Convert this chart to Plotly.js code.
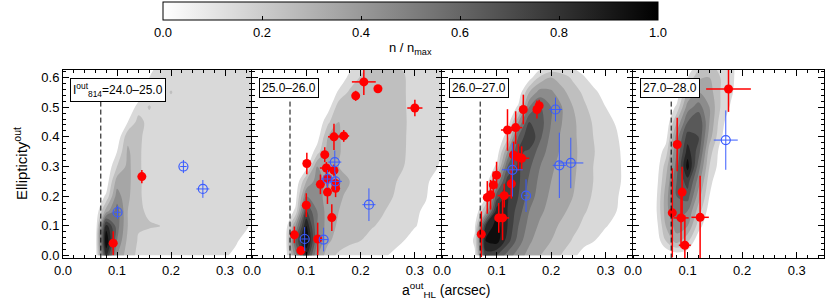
<!DOCTYPE html>
<html>
<head>
<meta charset="utf-8">
<script src="https://cdn.plot.ly/plotly-3.0.1.min.js"></script>
<style>html,body{margin:0;padding:0;background:#fff;}#chart{width:830px;height:303px;}</style>
</head>
<body>
<div id="chart"></div>
<script>
// ---------------- data ----------------
const magLabels = ['I<sup>out</sup><sub>814</sub>=24.0\u201325.0', '25.0\u201326.0', '26.0\u201327.0', '27.0\u201328.0'];
const sizeLimit = 0.07;
const xTicks = [0.0, 0.1, 0.2, 0.3];
const yTicks = [0.0, 0.1, 0.2, 0.3, 0.4, 0.5, 0.6];
const cbTicks = [0.0, 0.2, 0.4, 0.6, 0.8, 1.0];

// density grid (n / n_max)
const gridX = [0,0.02,0.04,0.06,0.08,0.10,0.12,0.14,0.16,0.18,0.20,0.22,0.24,0.26,0.28,0.30,0.32,0.34,0.36];
const gridY = [0,0.05,0.10,0.15,0.20,0.25,0.30,0.35,0.40,0.45,0.50,0.55,0.60,0.65];

const density2425 = [
[0,0,0,0.02,0.8,0.4,0.24,0.18,0.14,0.13,0.12,0.12,0.12,0.12,0.11,0.11,0.08,0.03,0],
[0,0,0,0.02,1.0,0.5,0.27,0.19,0.15,0.13,0.13,0.13,0.13,0.13,0.13,0.12,0.11,0.07,0.02],
[0,0,0,0,0.85,0.55,0.3,0.21,0.21,0.2,0.13,0.13,0.13,0.13,0.13,0.13,0.12,0.11,0.06],
[0,0,0,0,0.35,0.55,0.3,0.22,0.18,0.14,0.13,0.13,0.13,0.13,0.13,0.13,0.13,0.12,0.09],
[0,0,0,0,0.12,0.45,0.32,0.22,0.15,0.13,0.13,0.13,0.13,0.13,0.13,0.13,0.13,0.12,0.09],
[0,0,0,0,0.03,0.35,0.33,0.22,0.15,0.13,0.13,0.13,0.13,0.13,0.13,0.13,0.13,0.12,0.09],
[0,0,0,0,0,0.2,0.33,0.22,0.14,0.13,0.13,0.13,0.13,0.13,0.13,0.13,0.13,0.12,0.09],
[0,0,0,0,0,0.1,0.32,0.22,0.14,0.13,0.13,0.13,0.13,0.13,0.13,0.13,0.13,0.12,0.09],
[0,0,0,0,0,0.02,0.27,0.23,0.14,0.13,0.13,0.13,0.13,0.13,0.13,0.13,0.13,0.12,0.09],
[0,0,0,0,0,0,0.1,0.24,0.16,0.13,0.13,0.13,0.13,0.13,0.13,0.13,0.13,0.12,0.09],
[0,0,0,0,0,0,0,0.15,0.21,0.13,0.13,0.13,0.13,0.13,0.13,0.13,0.13,0.12,0.09],
[0,0,0,0,0,0,0,0.02,0.13,0.13,0.21,0.13,0.13,0.13,0.13,0.13,0.13,0.12,0.09],
[0,0,0,0,0,0,0,0,0.1,0.12,0.12,0.12,0.12,0.12,0.12,0.12,0.12,0.12,0.08],
[0,0,0,0,0,0,0,0,0.05,0.11,0.11,0.11,0.11,0.11,0.11,0.11,0.11,0.1,0.05]
];
const density2526 = [
[0,0,0,0,0.45,0.8,0.4,0.24,0.18,0.15,0.13,0.12,0.11,0.09,0.02,0,0,0,0],
[0,0,0,0,0.6,1.0,0.5,0.32,0.25,0.22,0.2,0.16,0.13,0.12,0.1,0.03,0,0,0],
[0,0,0,0,0.4,0.9,0.5,0.35,0.28,0.24,0.22,0.21,0.18,0.14,0.13,0.11,0.05,0,0],
[0,0,0,0,0.12,0.7,0.5,0.35,0.3,0.26,0.23,0.22,0.21,0.17,0.14,0.12,0.08,0,0],
[0,0,0,0,0.05,0.5,0.45,0.35,0.32,0.27,0.23,0.22,0.22,0.2,0.15,0.13,0.11,0.03,0],
[0,0,0,0,0,0.3,0.45,0.36,0.32,0.3,0.24,0.22,0.22,0.21,0.18,0.14,0.12,0.06,0],
[0,0,0,0,0,0.05,0.4,0.35,0.3,0.28,0.23,0.22,0.22,0.22,0.2,0.14,0.13,0.11,0.03],
[0,0,0,0,0,0,0.15,0.35,0.31,0.25,0.23,0.22,0.22,0.22,0.21,0.15,0.13,0.12,0.08],
[0,0,0,0,0,0,0.05,0.3,0.31,0.24,0.23,0.22,0.22,0.22,0.21,0.16,0.13,0.12,0.09],
[0,0,0,0,0,0,0,0.18,0.3,0.24,0.22,0.22,0.22,0.22,0.21,0.17,0.13,0.12,0.09],
[0,0,0,0,0,0,0,0.05,0.26,0.23,0.22,0.22,0.22,0.22,0.21,0.16,0.13,0.12,0.09],
[0,0,0,0,0,0,0,0,0.12,0.22,0.22,0.22,0.22,0.22,0.21,0.15,0.13,0.12,0.09],
[0,0,0,0,0,0,0,0,0.02,0.13,0.21,0.22,0.22,0.22,0.21,0.14,0.13,0.12,0.09],
[0,0,0,0,0,0,0,0,0,0.05,0.15,0.2,0.21,0.2,0.18,0.13,0.12,0.11,0.08]
];
const density2627 = [
[0,0,0,0.08,0.75,0.7,0.55,0.45,0.36,0.3,0.25,0.19,0.13,0.05,0,0,0,0,0],
[0,0,0,0.12,0.9,0.95,0.75,0.55,0.42,0.34,0.3,0.25,0.19,0.14,0.1,0.03,0,0,0],
[0,0,0,0.08,0.8,0.95,0.8,0.6,0.46,0.38,0.33,0.28,0.23,0.18,0.15,0.11,0.05,0,0],
[0,0,0,0,0.3,0.85,0.8,0.65,0.5,0.42,0.36,0.32,0.27,0.21,0.17,0.13,0.1,0.04,0],
[0,0,0,0,0.08,0.65,0.8,0.7,0.55,0.45,0.38,0.33,0.3,0.24,0.18,0.14,0.11,0.05,0],
[0,0,0,0,0,0.4,0.75,0.72,0.58,0.47,0.4,0.35,0.31,0.26,0.19,0.15,0.12,0.07,0],
[0,0,0,0,0,0.12,0.6,0.72,0.62,0.5,0.42,0.36,0.32,0.26,0.19,0.15,0.12,0.07,0],
[0,0,0,0,0,0.02,0.4,0.72,0.68,0.55,0.45,0.38,0.32,0.27,0.2,0.15,0.12,0.06,0],
[0,0,0,0,0,0,0.15,0.6,0.8,0.62,0.47,0.38,0.32,0.26,0.19,0.14,0.11,0.04,0],
[0,0,0,0,0,0,0.02,0.4,0.7,0.65,0.5,0.4,0.32,0.25,0.18,0.13,0.09,0,0],
[0,0,0,0,0,0,0,0.12,0.5,0.6,0.5,0.4,0.3,0.22,0.15,0.1,0.03,0,0],
[0,0,0,0,0,0,0,0.02,0.3,0.45,0.42,0.33,0.25,0.18,0.12,0.05,0,0,0],
[0,0,0,0,0,0,0,0,0.05,0.22,0.3,0.25,0.18,0.11,0.04,0,0,0,0],
[0,0,0,0,0,0,0,0,0,0,0.04,0.05,0.05,0.02,0,0,0,0,0]
];
const density2728 = [
[0,0,0,0,0.03,0.02,0,0,0,0,0,0,0,0,0,0,0,0,0],
[0,0,0,0.2,0.35,0.22,0.02,0,0,0,0,0,0,0,0,0,0,0,0],
[0,0,0.02,0.3,0.45,0.4,0.15,0,0,0,0,0,0,0,0,0,0,0,0],
[0,0,0.05,0.35,0.55,0.5,0.25,0.05,0,0,0,0,0,0,0,0,0,0,0],
[0,0,0.04,0.35,0.6,0.65,0.35,0.1,0,0,0,0,0,0,0,0,0,0,0],
[0,0,0.02,0.3,0.6,0.75,0.45,0.14,0,0,0,0,0,0,0,0,0,0,0],
[0,0,0,0.25,0.55,0.95,0.55,0.2,0.05,0,0,0,0,0,0,0,0,0,0],
[0,0,0,0.15,0.5,0.85,0.65,0.25,0.06,0,0,0,0,0,0,0,0,0,0],
[0,0,0,0.05,0.45,0.75,0.7,0.35,0.12,0,0,0,0,0,0,0,0,0,0],
[0,0,0,0,0.3,0.6,0.7,0.4,0.15,0.02,0,0,0,0,0,0,0,0,0],
[0,0,0,0,0.12,0.45,0.55,0.4,0.2,0.08,0,0,0,0,0,0,0,0,0],
[0,0,0,0,0.02,0.3,0.4,0.35,0.2,0.12,0,0,0,0,0,0,0,0,0],
[0,0,0,0,0,0.1,0.28,0.3,0.2,0.13,0.02,0,0,0,0,0,0,0,0],
[0,0,0,0,0,0,0.12,0.2,0.16,0.12,0.05,0,0,0,0,0,0,0,0]
];

// red filled points (with error bars)
const red2425X = [0.146, 0.093];
const red2425Y = [0.266, 0.042];
const red2425Ex = [0.003, 0.003];
const red2425Ey = [0.022, 0.040];
const red2526X = [0.206,0.191,0.232,0.300,0.151,0.169,0.134,0.101,0.137,0.151,0.139,0.126,0.154,0.154,0.139,0.100,0.147,0.078,0.121,0.090];
const red2526Y = [0.585,0.538,0.562,0.497,0.400,0.403,0.340,0.310,0.295,0.287,0.260,0.240,0.243,0.227,0.214,0.170,0.128,0.070,0.056,0.017];
const red2526Ex = [0.022,0.004,0.004,0.014,0.011,0.010,0.004,0.004,0.012,0.004,0.006,0.004,0.004,0.004,0.004,0.004,0.004,0.004,0.004,0.004];
const red2526Ey = [0.044,0.017,0.010,0.028,0.044,0.020,0.025,0.036,0.020,0.020,0.025,0.033,0.025,0.030,0.040,0.040,0.045,0.028,0.055,0.015];
const red2627X = [0.072,0.083,0.089,0.094,0.100,0.114,0.104,0.111,0.127,0.120,0.135,0.149,0.174,0.178,0.131,0.140,0.146];
const red2627Y = [0.072,0.196,0.205,0.238,0.271,0.202,0.127,0.127,0.242,0.423,0.431,0.492,0.492,0.505,0.339,0.331,0.328];
const red2627Ex = [0.004,0.004,0.004,0.004,0.004,0.012,0.004,0.012,0.004,0.012,0.012,0.004,0.006,0.004,0.004,0.006,0.014];
const red2627Ey = [0.077,0.055,0.050,0.045,0.045,0.040,0.050,0.075,0.050,0.070,0.055,0.050,0.030,0.020,0.045,0.045,0.040];
const red2728X = [0.175,0.081,0.090,0.072,0.088,0.123,0.095];
const red2728Y = [0.561,0.374,0.214,0.144,0.127,0.129,0.035];
const red2728Ex = [0.041,0.004,0.004,0.004,0.014,0.016,0.011];
const red2728Ey = [0.077,0.090,0.085,0.150,0.100,0.140,0.100];

// blue open points (with error bars)
const blue2425X = [0.101, 0.223, 0.259];
const blue2425Y = [0.146, 0.300, 0.2245];
const blue2425Ex = [0.006, 0.006, 0.012];
const blue2425Ey = [0.022, 0.022, 0.030];
const blue2526X = [0.1525,0.139,0.1537,0.2154,0.097,0.132];
const blue2526Y = [0.315,0.258,0.250,0.1715,0.056,0.054];
const blue2526Ex = [0.012,0.012,0.012,0.012,0.006,0.008];
const blue2526Ey = [0.039,0.030,0.030,0.055,0.040,0.040];
const blue2627X = [0.208,0.129,0.154,0.215,0.236];
const blue2627Y = [0.492,0.289,0.202,0.304,0.312];
const blue2627Ex = [0.012,0.019,0.004,0.012,0.023];
const blue2627Ey = [0.040,0.090,0.055,0.110,0.085];
const blue2728X = [0.170];
const blue2728Y = [0.389];
const blue2728Ex = [0.022];
const blue2728Ey = [0.100];

// ---------------- build ----------------
const FONT = 'Liberation Sans, Arial, Helvetica, sans-serif';
const RED = 'rgb(255,0,0)';
const BLUE = 'rgb(58,92,255)';
const densities = [density2425, density2526, density2627, density2728];
const reds = [[red2425X,red2425Y,red2425Ex,red2425Ey],[red2526X,red2526Y,red2526Ex,red2526Ey],[red2627X,red2627Y,red2627Ex,red2627Ey],[red2728X,red2728Y,red2728Ex,red2728Ey]];
const blues = [[blue2425X,blue2425Y,blue2425Ex,blue2425Ey],[blue2526X,blue2526Y,blue2526Ex,blue2526Ey],[blue2627X,blue2627Y,blue2627Ex,blue2627Ey],[blue2728X,blue2728Y,blue2728Ex,blue2728Ey]];

const contourScale = [[0,'rgb(255,255,255)'],[0.111,'rgb(217,217,217)'],[1,'rgb(13,13,13)']];

const W = 830, H = 303;
const panelEdges = [63, 252, 442, 633, 824];
const plotTop = 70, plotBottom = 258;

const traces = [];
const layout = {
  width: W, height: H,
  margin: {l:0, r:0, t:0, b:0},
  paper_bgcolor: '#fff', plot_bgcolor: '#fff',
  showlegend: false,
  font: {family: FONT, size: 13, color: '#000'},
  shapes: [], annotations: []
};

for (let i = 0; i < 4; i++) {
  const sfx = i === 0 ? '' : String(i + 1);
  const xa = 'x' + sfx, ya = 'y' + sfx;
  traces.push({
    type: 'contour', x: gridX, y: gridY, z: densities[i],
    xaxis: xa, yaxis: ya,
    autocontour: false,
    contours: {start: 0.1, end: 0.9, size: 0.1, coloring: 'fill', showlines: false},
    line: {width: 0},
    colorscale: contourScale, showscale: false, hoverinfo: 'skip'
  });
}
// invisible heatmap that only carries the continuous colour bar
traces.push({
  type: 'heatmap', x: gridX, y: gridY, z: density2425, xaxis: 'x', yaxis: 'y',
  opacity: 0, zmin: 0, zmax: 1, hoverinfo: 'skip',
  colorscale: [[0,'rgb(255,255,255)'],[1,'rgb(0,0,0)']],
  showscale: true,
  colorbar: {
    orientation: 'h', x: (163 + 658) / 2 / W, xanchor: 'center',
    y: 1 - 2 / H, yanchor: 'top', len: (658 - 163) / W, lenmode: 'fraction',
    thickness: 18, thicknessmode: 'pixels', xpad: 0, ypad: 0,
    outlinewidth: 1, outlinecolor: '#000',
    tickvals: cbTicks, tickformat: '.1f', ticks: 'inside', ticklen: 4, tickcolor: '#000',
    tickfont: {family: FONT, size: 13}
  }
});
for (let i = 0; i < 4; i++) {
  const sfx = i === 0 ? '' : String(i + 1);
  const xa = 'x' + sfx, ya = 'y' + sfx;
  const r = reds[i];
  traces.push({
    type: 'scatter', mode: 'markers', x: r[0], y: r[1], xaxis: xa, yaxis: ya,
    marker: {color: RED, size: 9, line: {width: 0}},
    error_x: {type: 'data', array: r[2], visible: true, color: RED, thickness: 1.5, width: 0},
    error_y: {type: 'data', array: r[3], visible: true, color: RED, thickness: 1.5, width: 0},
    hoverinfo: 'x+y'
  });
}
for (let i = 0; i < 4; i++) {
  const sfx = i === 0 ? '' : String(i + 1);
  const xa = 'x' + sfx, ya = 'y' + sfx;
  const b = blues[i];
  traces.push({
    type: 'scatter', mode: 'markers', x: b[0], y: b[1], xaxis: xa, yaxis: ya,
    marker: {symbol: 'circle-open', color: BLUE, size: 9, line: {width: 1.2, color: BLUE}},
    error_x: {type: 'data', array: b[2], visible: true, color: BLUE, thickness: 1, width: 0},
    error_y: {type: 'data', array: b[3], visible: true, color: BLUE, thickness: 1, width: 0},
    hoverinfo: 'x+y'
  });
}

for (let i = 0; i < 4; i++) {
  const sfx = i === 0 ? '' : String(i + 1);
  const xa = 'x' + sfx, ya = 'y' + sfx;
  layout['xaxis' + sfx] = {
    domain: [panelEdges[i] / W, panelEdges[i + 1] / W], anchor: ya,
    range: [0, 0.35], tickvals: xTicks, tickformat: '.1f',
    ticks: 'inside', ticklen: 6, tickwidth: 1, tickcolor: '#000',
    showline: true, linecolor: '#000', linewidth: 1, mirror: 'ticks',
    showgrid: false, zeroline: false,
    minor: {dtick: 0.02, ticks: 'inside', ticklen: 3, tickcolor: '#000', showgrid: false},
    tickfont: {family: FONT, size: 13}
  };
  layout['yaxis' + sfx] = {
    domain: [1 - plotBottom / H, 1 - plotTop / H], anchor: xa,
    range: [-0.008, 0.625], tickvals: yTicks, tickformat: '.1f',
    showticklabels: i === 0,
    ticks: 'inside', ticklen: 6, tickwidth: 1, tickcolor: '#000',
    showline: true, linecolor: '#000', linewidth: 1, mirror: 'ticks',
    showgrid: false, zeroline: false,
    minor: {dtick: 0.02, ticks: 'inside', ticklen: 3, tickcolor: '#000', showgrid: false},
    tickfont: {family: FONT, size: 13}
  };
  layout.shapes.push({
    type: 'line', xref: xa, yref: ya, x0: sizeLimit, x1: sizeLimit, y0: -0.01, y1: 0.525,
    line: {color: '#000', width: 1, dash: '5px,3px'}
  });
  layout.annotations.push({
    xref: xa + ' domain', yref: ya + ' domain', x: 0.035, y: 0.957,
    xanchor: 'left', yanchor: 'top', text: magLabels[i], showarrow: false,
    font: {family: FONT, size: 12, color: '#000'},
    bgcolor: '#fff', bordercolor: '#000', borderwidth: 1, borderpad: 2
  });
}
layout.annotations.push({
  xref: 'paper', yref: 'paper', x: 20 / W, y: 1 - ((plotTop + plotBottom) / 2) / H,
  xanchor: 'center', yanchor: 'middle', textangle: -90, showarrow: false,
  text: 'Ellipticity<sup>out</sup>', font: {family: FONT, size: 15, color: '#000'}
});
layout.annotations.push({
  xref: 'paper', yref: 'paper', x: 446 / W, y: 1 - 290 / H,
  xanchor: 'center', yanchor: 'middle', showarrow: false,
  text: 'a<sup>out</sup><sub>HL</sub> (arcsec)', font: {family: FONT, size: 14, color: '#000'}
});
// colour bar title, below the tick labels
layout.annotations.push({
  xref: 'paper', yref: 'paper', x: 410 / W, y: 1 - 49 / H,
  xanchor: 'center', yanchor: 'middle', showarrow: false,
  text: 'n / n<sub>max</sub>', font: {family: FONT, size: 13, color: '#000'}
});

Plotly.newPlot('chart', traces, layout, {displayModeBar: false, staticPlot: true});
</script>
</body>
</html>
